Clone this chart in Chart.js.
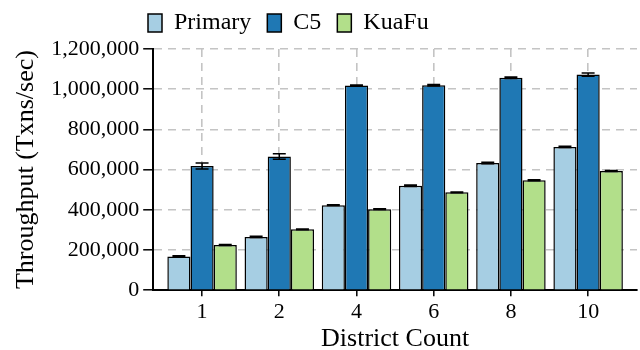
<!DOCTYPE html>
<html>
<head>
<meta charset="utf-8">
<script src="https://cdn.jsdelivr.net/npm/chart.js@4.4.1/dist/chart.umd.min.js"></script>
<style>
  body { margin: 0; background: #fff; }
</style>
</head>
<body>
<canvas id="throughput-chart" width="640" height="350"></canvas>
<script>
const districts = ['1', '2', '4', '6', '8', '10'];
const primary = [168000, 265000, 423000, 520000, 633000, 713000];
const c5 = [618000, 665000, 1018000, 1020000, 1057000, 1073000];
const kuafu = [225000, 303000, 403000, 487000, 547000, 593000];
const primaryErr = [3000, 3000, 2000, 4000, 4000, 3000];
const c5Err = [15000, 14000, 3000, 4000, 4000, 8000];
const kuafuErr = [2000, 2000, 2000, 2000, 2000, 2000];
const yTicks = [0, 200000, 400000, 600000, 800000, 1000000, 1200000];

const FONT = 'Liberation Serif';

function toPoints(values) {
    return values.map((v, i) => ({ x: i, y: v }));
}

// error bars on top of each bar
const errorBars = {
    id: 'errorBars',
    afterDatasetsDraw(chart) {
        const ctx = chart.ctx;
        const y = chart.scales.y;
        ctx.save();
        ctx.strokeStyle = '#000';
        ctx.lineWidth = 1.5;
        chart.data.datasets.forEach((ds, di) => {
            const meta = chart.getDatasetMeta(di);
            meta.data.forEach((bar, i) => {
                const v = ds.data[i].y;
                const e = ds.errors[i];
                const top = y.getPixelForValue(v + e);
                const bot = y.getPixelForValue(v - e);
                const half = bar.width * 0.28;
                ctx.beginPath();
                ctx.moveTo(bar.x, top);
                ctx.lineTo(bar.x, bot);
                ctx.moveTo(bar.x - half, top);
                ctx.lineTo(bar.x + half, top);
                ctx.moveTo(bar.x - half, bot);
                ctx.lineTo(bar.x + half, bot);
                ctx.stroke();
            });
        });
        ctx.restore();
    }
};

// the legend sits a bit left of centre and higher in the original
const legendShift = {
    id: 'legendShift',
    afterLayout(chart) {
        const lg = chart.legend;
        const w = lg.right - lg.left;
        lg.left = 138;
        lg.right = 138 + w;
        lg.top -= 4;
        lg.bottom -= 4;
    }
};

new Chart(document.getElementById('throughput-chart'), {
    type: 'bar',
    data: {
        datasets: [
            {
                label: 'Primary ',
                data: toPoints(primary),
                errors: primaryErr,
                backgroundColor: '#a6cee3',
                borderColor: '#000',
                borderWidth: 1.5
            },
            {
                label: 'C5 ',
                data: toPoints(c5),
                errors: c5Err,
                backgroundColor: '#1f78b4',
                borderColor: '#000',
                borderWidth: 1.5
            },
            {
                label: 'KuaFu',
                data: toPoints(kuafu),
                errors: kuafuErr,
                backgroundColor: '#b2df8a',
                borderColor: '#000',
                borderWidth: 1.5
            }
        ]
    },
    options: {
        responsive: false,
        animation: false,
        categoryPercentage: 0.9,
        barPercentage: 1.0,
        layout: {
            padding: { top: 5, right: 3, bottom: 0, left: 11 }
        },
        plugins: {
            tooltip: { enabled: false },
            legend: {
                position: 'top',
                align: 'start',
                labels: {
                    font: { family: FONT, size: 24, lineHeight: 1.0 },
                    color: '#000',
                    boxWidth: 14,
                    boxHeight: 18,
                    padding: 10
                }
            }
        },
        scales: {
            x: {
                type: 'linear',
                offset: false,
                min: -0.633,
                max: 5.633,
                grid: {
                    offset: false,
                    color: '#c4c4c4',
                    lineWidth: 1.6,
                    tickColor: '#000',
                    tickLength: 6,
                    tickWidth: 1.5,
                    tickBorderDash: []
                },
                border: { color: '#000', width: 2, dash: [8, 6] },
                ticks: {
                    stepSize: 1,
                    includeBounds: false,
                    autoSkip: false,
                    maxRotation: 0,
                    padding: 5,
                    color: '#000',
                    font: { family: FONT, size: 22, lineHeight: 1.0 },
                    callback: (v) => districts[v] ?? ''
                },
                title: {
                    display: true,
                    text: 'District Count',
                    color: '#000',
                    font: { family: FONT, size: 26, lineHeight: 0.8 },
                    padding: { top: 1, bottom: 0 }
                }
            },
            y: {
                min: 0,
                max: 1200000,
                afterBuildTicks: (axis) => {
                    axis.ticks = yTicks.map(v => ({ value: v }));
                },
                grid: {
                    color: '#c4c4c4',
                    lineWidth: 1.6,
                    tickColor: '#000',
                    tickLength: 10,
                    tickWidth: 1.5,
                    tickBorderDash: []
                },
                border: { color: '#000', width: 2, dash: [8, 6] },
                ticks: {
                    padding: 4,
                    color: '#000',
                    font: { family: FONT, size: 22 },
                    callback: (v) => v.toLocaleString('en-US')
                },
                title: {
                    display: true,
                    text: 'Throughput (Txns/sec)',
                    color: '#000',
                    font: { family: FONT, size: 26 },
                    padding: { top: 0, bottom: 5 }
                }
            }
        }
    },
    plugins: [errorBars, legendShift]
});
</script>
</body>
</html>
